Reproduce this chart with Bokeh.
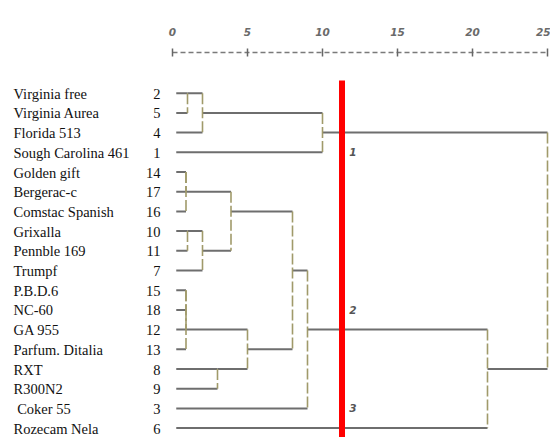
from bokeh.plotting import figure
from bokeh.models import Range1d, LinearAxis, FixedTicker, ColumnDataSource
from bokeh.core.properties import value
from bokeh.embed import file_html
from bokeh.resources import INLINE

# ---- data ----
case_names = ["Virginia free", "Virginia Aurea", "Florida 513", "Sough Carolina 461",
              "Golden gift", "Bergerac-c", "Comstac Spanish", "Grixalla", "Pennble 169",
              "Trumpf", "P.B.D.6", "NC-60", "GA 955", "Parfum. Ditalia", "RXT",
              "R300N2", "\u00a0Coker 55", "Rozecam Nela"]
case_numbers = [2, 5, 4, 1, 14, 17, 16, 10, 11, 7, 15, 18, 12, 13, 8, 9, 3, 6]

# agglomeration schedule (clusters > 100 are earlier merges, 101 = first merge)
merge_a = [2, 101, 102, 14, 104, 10, 106, 105, 15, 109, 110, 8, 111, 108, 114, 115, 103]
merge_b = [5, 4, 1, 17, 16, 11, 7, 107, 18, 12, 13, 9, 112, 113, 3, 6, 116]
merge_dist = [1.0, 2.0, 10.0, 0.9, 0.9, 1.0, 2.0, 3.9, 0.9, 0.9, 0.9, 3.0, 5.0, 8.0, 9.0, 21.0, 25.0]

axis_ticks = [0, 5, 10, 15, 20, 25]
cut_distance = 11.3
cluster_names = ["1", "2", "3"]
cluster_label_rows = [3, 11, 16]
leaf_start = 0.25

# ---- layout of the tree ----
pos = {c: i for i, c in enumerate(case_numbers)}
xpos = {c: leaf_start for c in case_numbers}
hx0, hx1, hy = [], [], []
vx, vy0, vy1 = [], [], []
for k, (a, b, d) in enumerate(zip(merge_a, merge_b, merge_dist)):
    ya, yb = pos[a], pos[b]
    for c, yc in ((a, ya), (b, yb)):
        if d > xpos[c]:
            hx0.append(xpos[c]); hx1.append(d); hy.append(yc)
    vx.append(d); vy0.append(ya); vy1.append(yb)
    new = 101 + k
    pos[new] = (ya + yb) // 2
    xpos[new] = d

W, H = 550, 437
TOP = 52
px_per_unit = 15.0
x0_px = 172.0
row_px = 19.7
row0_px = 40.7
frame_h = H - TOP

p = figure(width=W, height=H, output_backend="svg", toolbar_location=None,
           x_axis_type=None, y_axis_type=None,
           x_range=Range1d(-x0_px / px_per_unit, (W - x0_px) / px_per_unit),
           y_range=Range1d((frame_h - row0_px) / row_px, -row0_px / row_px),
           min_border_left=0, min_border_right=0, min_border_bottom=0, min_border_top=TOP)
p.outline_line_color = None
p.grid.visible = False
p.background_fill_color = "white"
p.border_fill_color = "white"

ax = LinearAxis(ticker=FixedTicker(ticks=axis_ticks), bounds=(0, 25))
ax.axis_line_color = "#7a7a7a"
ax.axis_line_width = 1.6
ax.axis_line_dash = "5 3"
ax.major_tick_in = 4
ax.major_tick_out = 4
ax.major_tick_line_color = "#666666"
ax.major_tick_line_width = 1.5
ax.minor_tick_line_color = None
ax.major_label_text_font = "DejaVu Sans"
ax.major_label_text_font_style = "bold italic"
ax.major_label_text_font_size = "10.5px"
ax.major_label_text_color = "#6a6a6a"
ax.major_label_standoff = 13
p.add_layout(ax, "above")

# horizontal lines
p.segment(x0=hx0, y0=hy, x1=hx1, y1=hy, line_color="#6e6e6e", line_width=2)
# vertical dashed connectors
p.segment(x0=vx, y0=vy0, x1=vx, y1=vy1, line_color="#a09a6a", line_width=1.6,
          line_dash="11 3")

# cut line
p.segment(x0=[cut_distance], y0=[-0.645], x1=[cut_distance], y1=[30],
          line_color="#ff0000", line_width=6)

rows = list(range(len(case_names)))
src = ColumnDataSource(dict(name=case_names, num=[str(n) for n in case_numbers],
                            y=[r + 0.03 for r in rows]))
p.text(x=-10.6, y="y", text="name", source=src, text_font=value("Liberation Serif"),
       text_font_size="14.5px", text_color="#111111", text_baseline="alphabetic",
       text_align="left")
p.text(x=-0.8, y="y", text="num", source=src, text_font=value("Liberation Serif"),
       text_font_size="14.5px", text_color="#111111", text_baseline="alphabetic",
       text_align="right")

p.text(x=[cut_distance + 0.72] * 3, y=cluster_label_rows, text=cluster_names,
       text_font=value("DejaVu Sans"), text_font_style="bold italic",
       text_font_size="10.5px", text_color="#555555", text_baseline="middle",
       text_align="center")

open("out.html", "w").write(file_html(p, INLINE))
